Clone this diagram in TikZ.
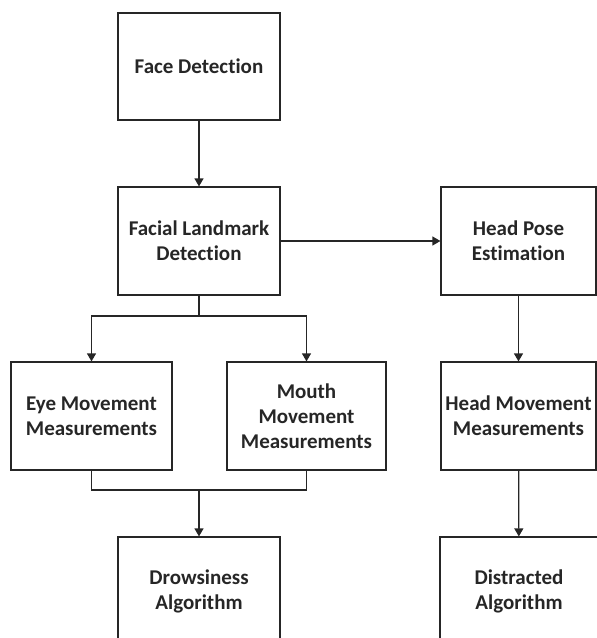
\documentclass[tikz,border=0pt]{standalone}
\usepackage{fontspec}
\setmainfont{Carlito}[Ligatures=NoCommon]
\usetikzlibrary{arrows.meta}
\begin{document}
\begin{tikzpicture}[x=1pt,y=-1pt,
  box/.style={draw=black!85, line width=1.2pt, rectangle, minimum height=108pt, inner sep=0pt, align=center,
    font=\fontsize{21}{25}\selectfont\bfseries, text=black!85},
  conn/.style={draw=black!85, line width=1.2pt},
  arr/.style={conn, -{Triangle[width=9pt,length=8pt]}}]
\clip (0,0) rectangle (597,638);
\useasboundingbox (0,0) rectangle (597,638);
\node[box, minimum width=162pt, minimum height=107pt] (face) at (199,66.5) {Face Detection};
\node[box, minimum width=162pt] (land) at (199,241) {Facial Landmark\\Detection};
\node[box, minimum width=155pt] (pose) at (518.5,241) {Head Pose\\Estimation};
\node[box, minimum width=161pt] (eye) at (91.5,416) {Eye Movement\\Measurements};
\node[box, minimum width=159pt] (mouth) at (306.5,416) {Mouth\\Movement\\Measurements};
\node[box, minimum width=155pt] (head) at (518.5,416) {Head Movement\\Measurements};
\node[box, minimum width=162pt] (drow) at (199,591) {Drowsiness\\Algorithm};
\node[box, minimum width=158pt] (dist) at (519,591) {Distracted\\Algorithm};
\coordinate (split) at (199,316);
\coordinate (merge) at (199,490);
\draw[arr] (face) -- (land);
\draw[arr] (land) -- (pose);
\draw[conn] (land.south) -- (split);
\draw[arr] (split) -| (eye.north);
\draw[arr] (split) -| (mouth.north);
\draw[conn] (eye.south) |- (merge);
\draw[conn] (mouth.south) |- (merge);
\draw[arr] (merge) -- (drow.north);
\draw[arr] (pose) -- (head);
\draw[arr] (head) -- (dist);
\end{tikzpicture}
\end{document}
